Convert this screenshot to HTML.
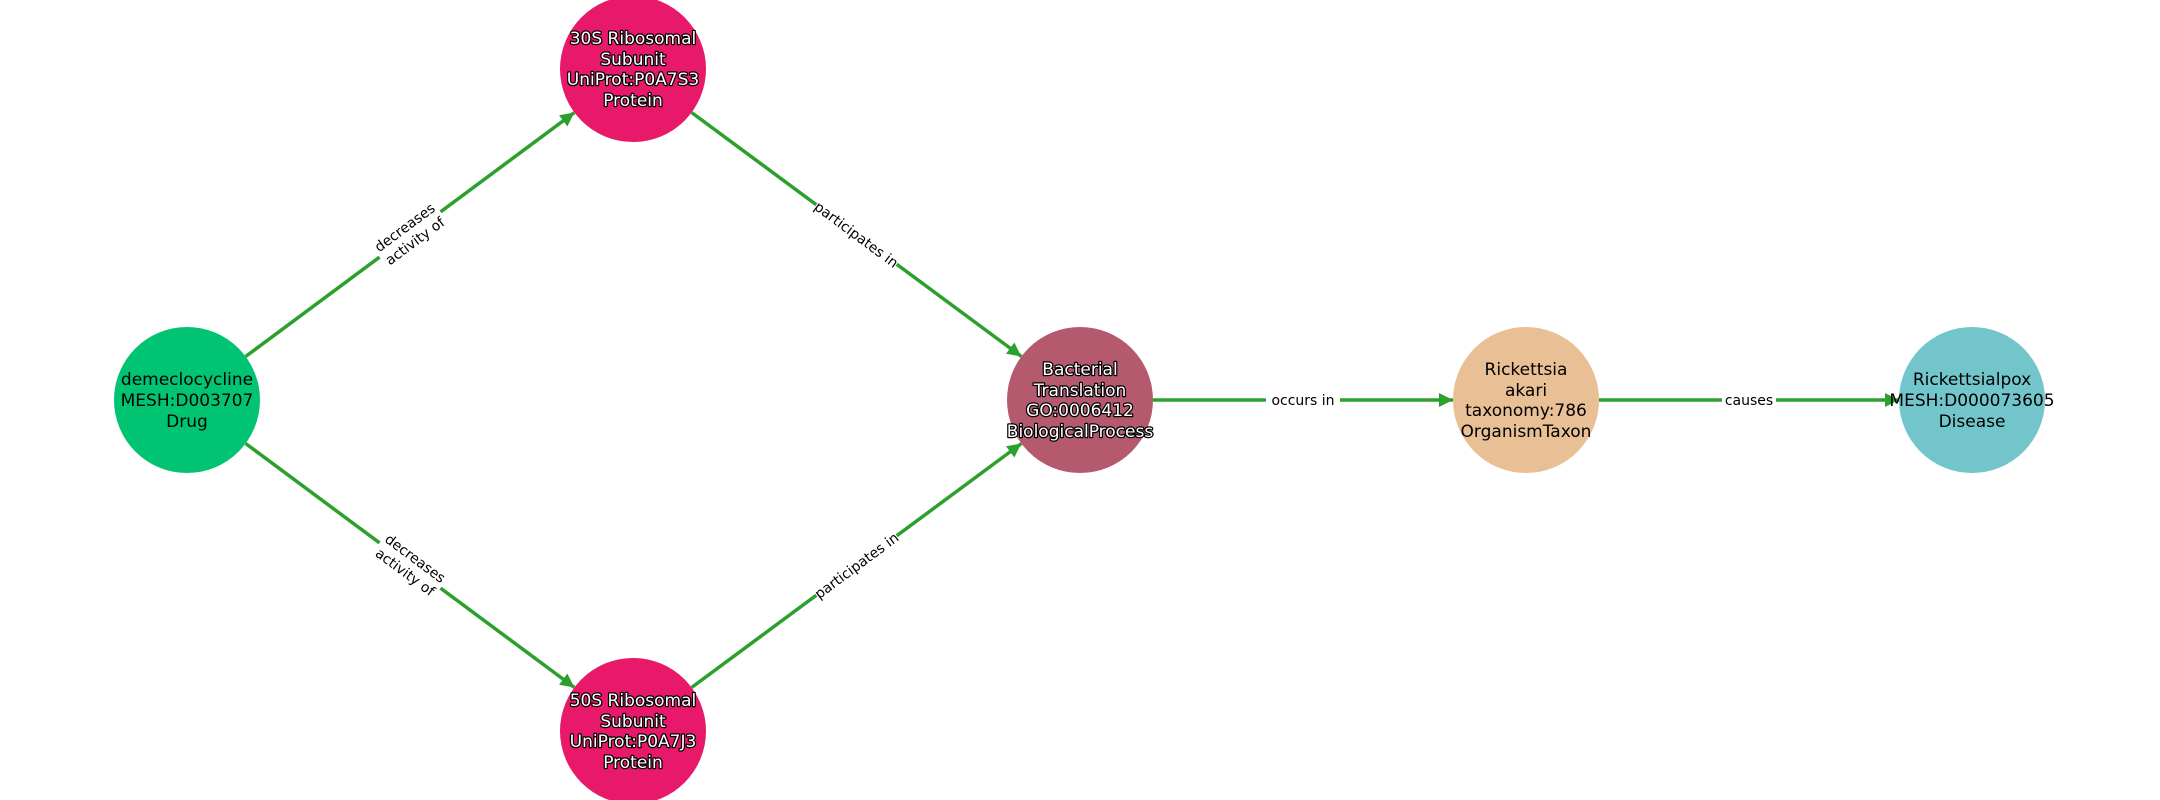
<!DOCTYPE html>
<html><head><meta charset="utf-8"><style>html,body{margin:0;padding:0;background:#fff}svg{display:block}</style></head>
<body>
<svg width="2160" height="800" viewBox="0 0 2160 800" xmlns="http://www.w3.org/2000/svg" font-family="'DejaVu Sans', 'Liberation Sans', sans-serif">
<defs>
<marker id="a" viewBox="0 0 10 10" refX="10" refY="5" markerWidth="4" markerHeight="4" orient="auto" markerUnits="strokeWidth">
<path d="M0,0 L10,5 L0,10 z" fill="#2ca02c"/></marker>
</defs>
<g stroke="#2ca02c" stroke-width="3.5" fill="none" marker-end="url(#a)">
<line x1="245.6" y1="356.5" x2="574.4" y2="112.5"/>
<line x1="245.6" y1="443.5" x2="574.4" y2="687.5"/>
<line x1="691.6" y1="112.5" x2="1021.4" y2="356.5"/>
<line x1="691.6" y1="687.5" x2="1021.4" y2="443.5"/>
<line x1="1153" y1="400" x2="1453" y2="400"/>
<line x1="1599" y1="400" x2="1899" y2="400"/>
</g>
<g font-size="14" fill="#000" text-anchor="middle">
<g transform="translate(410,234.5) rotate(-36.6)"><rect x="-38" y="-20" width="76" height="38" fill="#fff"/><text y="-4">decreases</text><text y="13">activity of</text></g>
<g transform="translate(410,565.5) rotate(36.6)"><rect x="-38" y="-20" width="76" height="38" fill="#fff"/><text y="-4">decreases</text><text y="13">activity of</text></g>
<g transform="translate(856.5,234.5) rotate(36.6)"><rect x="-50" y="-11" width="100" height="20" fill="#fff"/><text y="5">participates in</text></g>
<g transform="translate(856.5,565.5) rotate(-36.6)"><rect x="-50" y="-11" width="100" height="20" fill="#fff"/><text y="5">participates in</text></g>
<rect x="1266" y="390" width="74" height="20" fill="#fff"/><text x="1303" y="405">occurs in</text>
<rect x="1722" y="390" width="54" height="20" fill="#fff"/><text x="1749" y="405">causes</text>
</g>
<circle cx="187" cy="400" r="73" fill="#00c472"/>
<circle cx="633" cy="69" r="73" fill="#e8196a"/>
<circle cx="633" cy="731" r="73" fill="#e8196a"/>
<circle cx="1080" cy="400" r="73" fill="#b5596f"/>
<circle cx="1526" cy="400" r="73" fill="#e9bf96"/>
<circle cx="1972" cy="400" r="73" fill="#72c6cb"/>
<g font-size="17" text-anchor="middle" fill="#000">
<text x="187" y="385">demeclocycline</text><text x="187" y="406">MESH:D003707</text><text x="187" y="427">Drug</text>
<text x="1526" y="375">Rickettsia</text><text x="1526" y="396">akari</text><text x="1526" y="416">taxonomy:786</text><text x="1526" y="437">OrganismTaxon</text>
<text x="1972" y="385">Rickettsialpox</text><text x="1972" y="406">MESH:D000073605</text><text x="1972" y="427">Disease</text>
</g>
<g font-size="17" text-anchor="middle" fill="#fff" stroke="#000" stroke-width="2.5" paint-order="stroke" stroke-linejoin="round">
<text x="633" y="44">30S Ribosomal</text><text x="633" y="65">Subunit</text><text x="633" y="85">UniProt:P0A7S3</text><text x="633" y="106">Protein</text>
<text x="633" y="706">50S Ribosomal</text><text x="633" y="727">Subunit</text><text x="633" y="747">UniProt:P0A7J3</text><text x="633" y="768">Protein</text>
<text x="1080" y="375">Bacterial</text><text x="1080" y="396">Translation</text><text x="1080" y="416">GO:0006412</text><text x="1080" y="437">BiologicalProcess</text>
</g>
</svg>
</body></html>
